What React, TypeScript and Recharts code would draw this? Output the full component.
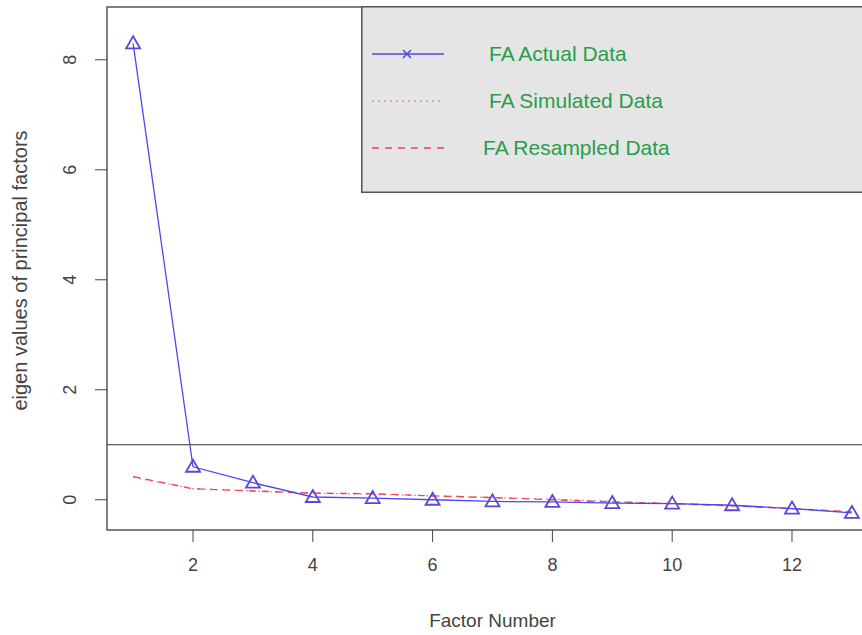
import React from "react";
import {
  LineChart,
  Line,
  XAxis,
  YAxis,
  ReferenceLine,
  ReferenceArea,
} from "recharts";

// factor numbers and eigen values
const factors = [1, 2, 3, 4, 5, 6, 7, 8, 9, 10, 11, 12, 13];
const actual = [8.3, 0.6, 0.31, 0.05, 0.03, 0.0, -0.03, -0.04, -0.06, -0.07, -0.1, -0.16, -0.24];
const simulated = [0.41, 0.2, 0.16, 0.12, 0.1, 0.07, 0.04, 0.01, -0.03, -0.07, -0.11, -0.16, -0.22];
const resampled = [0.42, 0.2, 0.16, 0.12, 0.11, 0.07, 0.04, 0.0, -0.04, -0.07, -0.11, -0.16, -0.22];
const xTicks = [2, 4, 6, 8, 10, 12];
const yTicks = [0, 2, 4, 6, 8];
const legendLabels = ["FA  Actual Data", "FA  Simulated Data", "FA  Resampled Data"];

const X_DOMAIN: [number, number] = [0.564, 13.436];
const Y_DOMAIN: [number, number] = [-0.55, 8.96];

const FONT = '"Liberation Sans", Arial, sans-serif';
const BLUE = "#4a4af0";
const MARK = "#5a48d8";
const RED = "#ee4455";
const PINK = "#f08aa0";
const GREEN = "#2a9d4a";
const TXT = "#444";

const data = factors.map((f, i) => ({
  factor: f,
  actual: actual[i],
  simulated: simulated[i],
  resampled: resampled[i],
}));

function Triangle(props: any) {
  const { cx, cy } = props;
  if (cx == null || cy == null) return null;
  return (
    <path
      d={`M${cx},${cy - 7} L${cx + 7},${cy + 5} L${cx - 7},${cy + 5} Z`}
      fill="none"
      stroke={MARK}
      strokeWidth={1.8}
    />
  );
}

function YTick(props: any) {
  const { y, payload } = props;
  return (
    <text
      x={0}
      y={0}
      transform={`translate(76, ${y}) rotate(-90)`}
      textAnchor="middle"
      fontSize={18}
      fill={TXT}
      fontFamily={FONT}
    >
      {payload.value}
    </text>
  );
}

function YLabel(props: any) {
  const { viewBox } = props;
  const cy = viewBox.y + viewBox.height / 2 + 2;
  return (
    <text
      x={0}
      y={0}
      transform={`translate(27, ${cy}) rotate(-90)`}
      textAnchor="middle"
      fontSize={20}
      fill={TXT}
      fontFamily={FONT}
    >
      eigen values of principal factors
    </text>
  );
}

function LegendBox() {
  const rows = [
    { stroke: BLUE, dash: undefined, label: legendLabels[0], tx: 489, cross: true },
    { stroke: PINK, dash: "2 4", label: legendLabels[1], tx: 489, cross: false },
    { stroke: RED, dash: "7 6", label: legendLabels[2], tx: 483, cross: false },
  ];
  return (
    <svg width={540} height={187} style={{ display: "block" }}>
      <rect x={0.75} y={0.75} width={560} height={185.5} fill="#e5e5e5" stroke="#555" strokeWidth={1.5} />
      {rows.map((r, i) => {
        const y = 48 + i * 47;
        return (
          <g key={i}>
            <line x1={11} x2={83} y1={y} y2={y} stroke={r.stroke} strokeWidth={1.4} strokeDasharray={r.dash} />
            {r.cross && (
              <path d={`M42,${y - 4} L50,${y + 4} M42,${y + 4} L50,${y - 4}`} stroke={MARK} strokeWidth={1.6} />
            )}
            <text x={r.tx - 361} y={y + 7} fontSize={21} fill={GREEN} fontFamily={FONT}>
              {r.label}
            </text>
          </g>
        );
      })}
    </svg>
  );
}

export default function App() {
  return (
    <div
      style={{
        position: "absolute",
        left: 0,
        top: 0,
        width: 862,
        height: 635,
        overflow: "hidden",
        background: "#fff",
      }}
    >
      <LineChart
        width={900}
        height={635}
        data={data}
        margin={{ top: 7, right: 22, left: 47, bottom: 45 }}
      >
        <XAxis
          dataKey="factor"
          type="number"
          domain={X_DOMAIN}
          ticks={xTicks}
          allowDataOverflow
          axisLine={false}
          tickLine={{ stroke: TXT }}
          tickSize={12}
          height={60}
          tick={{ fontSize: 18, fill: TXT, fontFamily: FONT, dy: 14 }}
          label={{
            value: "Factor Number",
            position: "bottom",
            offset: 24,
            fontSize: 19,
            fill: TXT,
            fontFamily: FONT,
          }}
        />
        <YAxis
          type="number"
          domain={Y_DOMAIN}
          ticks={yTicks}
          allowDataOverflow
          axisLine={false}
          tickLine={{ stroke: TXT }}
          tickSize={12}
          width={60}
          tick={<YTick />}
          label={<YLabel />}
        />
        <ReferenceArea
          x1={X_DOMAIN[0]}
          x2={X_DOMAIN[1]}
          y1={Y_DOMAIN[0]}
          y2={Y_DOMAIN[1]}
          fill="none"
          stroke="#555"
          strokeWidth={1.5}
          ifOverflow="visible"
        />
        <ReferenceLine y={1} stroke="#333" strokeWidth={1.2} />
        <Line
          dataKey="simulated"
          type="linear"
          stroke={PINK}
          strokeWidth={1.4}
          strokeDasharray="2 4"
          dot={false}
          isAnimationActive={false}
        />
        <Line
          dataKey="resampled"
          type="linear"
          stroke={RED}
          strokeWidth={1.4}
          strokeDasharray="7 6"
          dot={false}
          isAnimationActive={false}
        />
        <Line
          dataKey="actual"
          type="linear"
          stroke={BLUE}
          strokeWidth={1.3}
          dot={<Triangle />}
          isAnimationActive={false}
        />
      </LineChart>
      <div style={{ position: "absolute", left: 361, top: 6 }}>
        <LegendBox />
      </div>
    </div>
  );
}
